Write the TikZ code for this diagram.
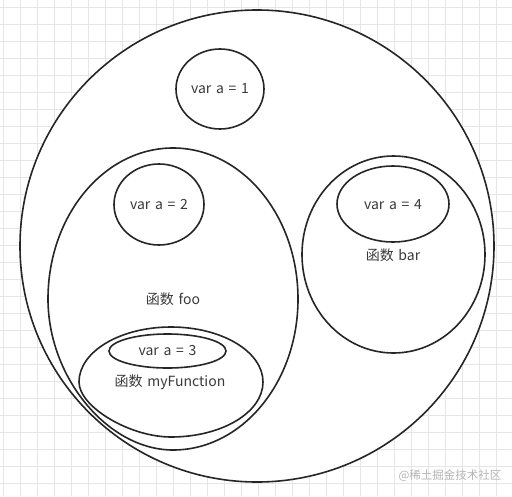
\documentclass[tikz,border=0pt]{standalone}
\usepackage{fontspec}
\setmainfont[WordSpace=1.5]{Noto Sans CJK SC}
\usetikzlibrary{shapes.geometric}
\definecolor{gridc}{HTML}{E6E6E6}
\definecolor{linec}{HTML}{262626}
\definecolor{textc}{HTML}{3A3A3A}
\definecolor{markc}{HTML}{B4B4B4}
\tikzset{
  scopebox/.style={draw=linec, line width=1.6pt, fill=white, ellipse, inner sep=0pt},
  scopeline/.style={draw=linec, line width=1.6pt, fill=white},
  lbl/.style={text=textc, font=\fontsize{14}{16}\selectfont, inner sep=0pt},
}
\begin{document}
\begin{tikzpicture}[x=1pt,y=-1pt]
\useasboundingbox (0,0) rectangle (512,496);
\fill[white] (0,0) rectangle (512,496);
\foreach \i in {0,...,30} \draw[gridc, line width=0.8pt] ({3+17*\i},0) -- ({3+17*\i},496);
\foreach \j in {0,...,28} \draw[gridc, line width=0.8pt] (0,{7+17*\j}) -- (512,{7+17*\j});
% outer scope
\node[scopebox, minimum width=474pt, minimum height=472pt] (global) at (257,246) {};
% var a = 1
\node[scopebox, minimum width=88pt, minimum height=80pt] (v1) at (220,89) {};
\node[lbl] (t1) at (220,89) {var a = 1};
% function foo (egg-like outline, lower-left slightly tucked)
\coordinate (foo) at (173,299);
\path[scopeline] (298,299) .. controls (298,215.6) and (242.04,148) .. (173,148)
  .. controls (103.96,148) and (48,215.6) .. (48,299)
  .. controls (48,377.5) and (108,450) .. (173,450)
  .. controls (242.04,450) and (298,382.4) .. (298,299) -- cycle;
\node[lbl] (tfoo) at (173,299) {函数 foo};
\node[scopebox, minimum width=90pt, minimum height=81pt] (v2) at (159,204.5) {};
\node[lbl] (t2) at (159,205) {var a = 2};
% function myFunction
\coordinate (myf) at (171,382);
\path[scopeline] (263,382) .. controls (263,351.6) and (221.8,327) .. (171,327)
  .. controls (120.2,327) and (79,351.6) .. (79,382)
  .. controls (79,406.75) and (129.6,437) .. (171,437)
  .. controls (221.8,437) and (263,412.4) .. (263,382) -- cycle;
\node[lbl] (tmyf) at (170,382) {函数 myFunction};
\node[scopebox, minimum width=117pt, minimum height=34pt] (v3) at (167.5,351) {};
\node[lbl] (t3) at (167.5,351) {var a = 3};
% function bar
\node[scopebox, minimum width=183pt, minimum height=197pt] (bar) at (393.5,254.5) {};
\node[lbl] (tbar) at (393,255) {函数 bar};
\node[scopebox, minimum width=112pt, minimum height=76pt] (v4) at (393,204) {};
\node[lbl] (t4) at (393,205) {var a = 4};
% watermark
\node[text=markc, font=\fontsize{11.5}{13}\selectfont, inner sep=0pt] (mark) at (450,476) {@稀土掘金技术社区};
\end{tikzpicture}
\end{document}
